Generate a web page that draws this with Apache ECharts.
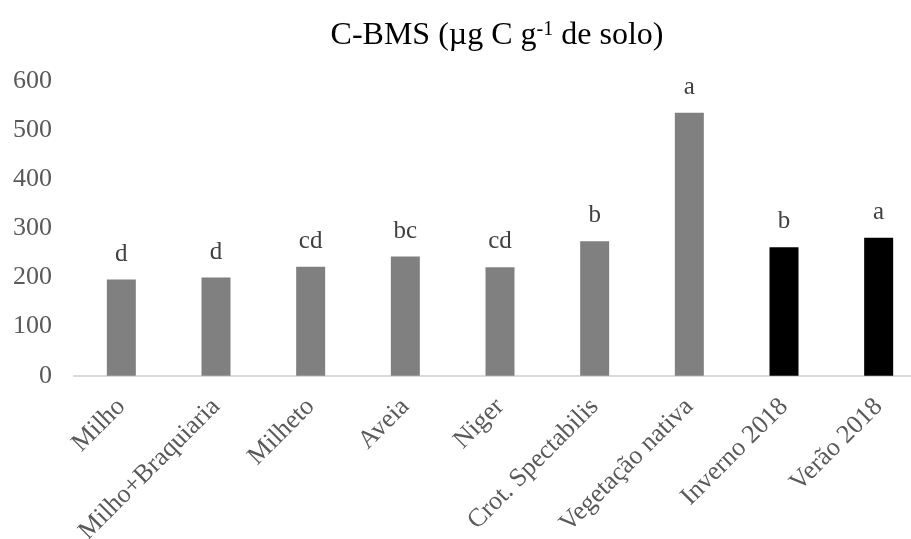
<!DOCTYPE html>
<html>
<head>
<meta charset="utf-8">
<title>C-BMS</title>
<script src="https://cdn.jsdelivr.net/npm/echarts@6/dist/echarts.min.js"></script>
<style>
  html, body { margin: 0; padding: 0; background: #fff; }
  #chart { width: 911px; height: 539px; }
</style>
</head>
<body>
<div id="chart"></div>
<script>
// Treatments (x axis categories)
const categorias = ['Milho', 'Milho+Braquiaria', 'Milheto', 'Aveia', 'Niger',
  'Crot. Spectabilis', 'Vegetação nativa', 'Inverno 2018', 'Verão 2018'];
// Microbial biomass carbon, µg C g-1 de solo
const cbms = [196, 200, 222, 243, 221, 274, 536, 262, 281];
// Significance letters shown above each bar
const letras = ['d', 'd', 'cd', 'bc', 'cd', 'b', 'a', 'b', 'a'];
// Seasonal sampling periods (drawn in black)
const estacoes = ['Inverno 2018', 'Verão 2018'];
// Y axis ticks
const yTicks = [0, 100, 200, 300, 400, 500, 600];

const FONT = "'Liberation Serif', 'Times New Roman', serif";

const chart = echarts.init(document.getElementById('chart'), null, { renderer: 'canvas' });

chart.setOption({
  animation: false,
  backgroundColor: '#ffffff',
  title: {
    text: '{m|C-BMS (µg C g}{s|-1}{m| de solo)}',
    left: 497,
    top: 20,
    textAlign: 'center',
    padding: 0,
    textStyle: {
      fontWeight: 'normal',
      rich: {
        m: { fontFamily: FONT, fontSize: 32, fontWeight: 'normal', lineHeight: 32, color: '#000000' },
        s: { fontFamily: FONT, fontSize: 20, fontWeight: 'normal', lineHeight: 14, verticalAlign: 'top', color: '#000000' }
      }
    }
  },
  grid: {
    left: 74,
    right: -15,
    top: 81.3,
    bottom: 163.3,
    containLabel: false,
    outerBoundsMode: 'none'
  },
  xAxis: {
    type: 'category',
    data: categorias,
    boundaryGap: true,
    axisLine: { show: true, lineStyle: { color: '#d9d9d9', width: 2 } },
    axisTick: { show: false },
    axisLabel: {
      interval: 0,
      rotate: 45,
      margin: 27,
      fontFamily: FONT,
      fontSize: 26,
      color: '#595959'
    }
  },
  yAxis: {
    type: 'value',
    min: yTicks[0],
    max: yTicks[yTicks.length - 1],
    interval: yTicks[1] - yTicks[0],
    axisLine: { show: false },
    axisTick: { show: false },
    splitLine: { show: false },
    axisLabel: {
      margin: 22,
      fontFamily: FONT,
      fontSize: 26,
      color: '#595959'
    }
  },
  series: [{
    type: 'bar',
    data: cbms,
    barWidth: 29,
    itemStyle: {
      color: function (p) {
        return estacoes.indexOf(categorias[p.dataIndex]) >= 0 ? '#000000' : '#808080';
      }
    },
    label: {
      show: true,
      position: 'top',
      distance: 13,
      fontFamily: FONT,
      fontSize: 25,
      color: '#404040',
      formatter: function (p) { return letras[p.dataIndex]; }
    }
  }]
});
</script>
</body>
</html>
